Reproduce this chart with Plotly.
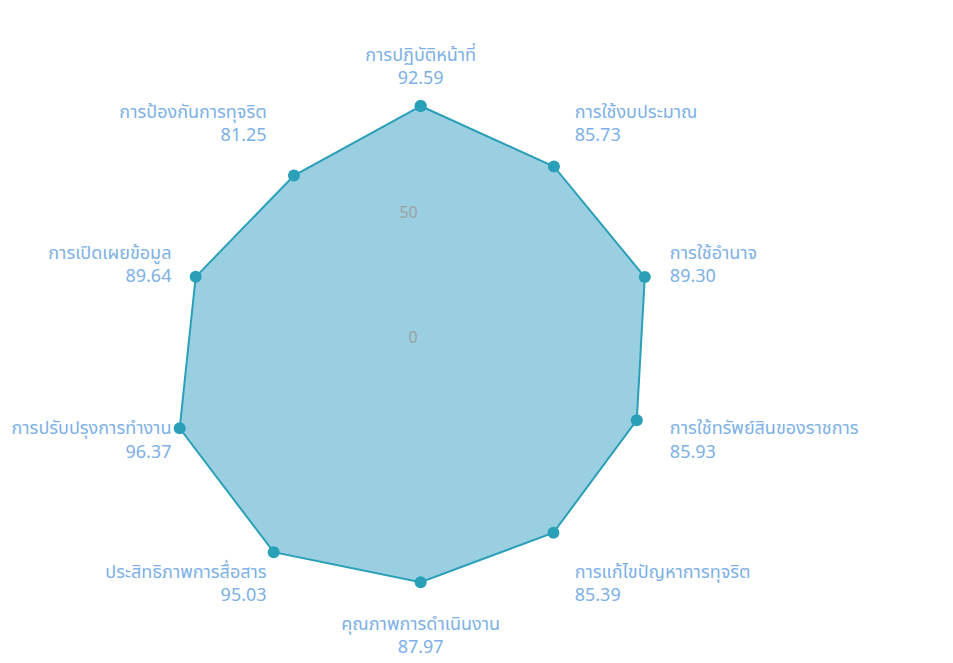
import plotly.graph_objects as go

categories = [
    "การปฏิบัติหน้าที่",
    "การใช้งบประมาณ",
    "การใช้อำนาจ",
    "การใช้ทรัพย์สินของราชการ",
    "การแก้ไขปัญหาการทุจริต",
    "คุณภาพการดำเนินงาน",
    "ประสิทธิภาพการสื่อสาร",
    "การปรับปรุงการทำงาน",
    "การเปิดเผยข้อมูล",
    "การป้องกันการทุจริต",
]
scores = [92.59, 85.73, 89.30, 85.93, 85.39, 87.97, 95.03, 96.37, 89.64, 81.25]
radial_ticks = [0, 50]

labels = [f"{c}<br>{v:.2f}" for c, v in zip(categories, scores)]

fig = go.Figure()

fig.add_trace(go.Scatterpolar(
    r=scores + scores[:1],
    theta=categories + categories[:1],
    mode="lines+markers",
    fill="toself",
    fillcolor="rgba(120,190,215,0.75)",
    line=dict(color="#2a9fb8", width=2),
    marker=dict(color="#2a9fb8", size=12),
    showlegend=False,
))

fig.update_layout(
    width=953,
    height=663,
    margin=dict(l=0, r=0, t=0, b=0),
    paper_bgcolor="white",
    font=dict(family="Noto Sans Thai, Noto Sans, sans-serif", color="#7cb0e6", size=18),
    polar=dict(
        domain=dict(x=[0.1655, 0.7005], y=[0.0995, 0.869]),
        bgcolor="rgba(0,0,0,0)",
        angularaxis=dict(
            direction="clockwise",
            rotation=90,
            tickmode="array",
            tickvals=categories,
            ticktext=labels,
            showgrid=False,
            showline=False,
            ticks="outside",
            ticklen=3,
            tickcolor="rgba(0,0,0,0)",
        ),
        radialaxis=dict(
            range=[-5, 97],
            angle=90,
            tickangle=90,
            side="counterclockwise",
            tickvals=radial_ticks,
            showgrid=False,
            showline=False,
            ticks="",
            tickfont=dict(color="#9aa3a3", size=16, family="Noto Sans"),
        ),
    ),
)

fig.write_html("out.html")
